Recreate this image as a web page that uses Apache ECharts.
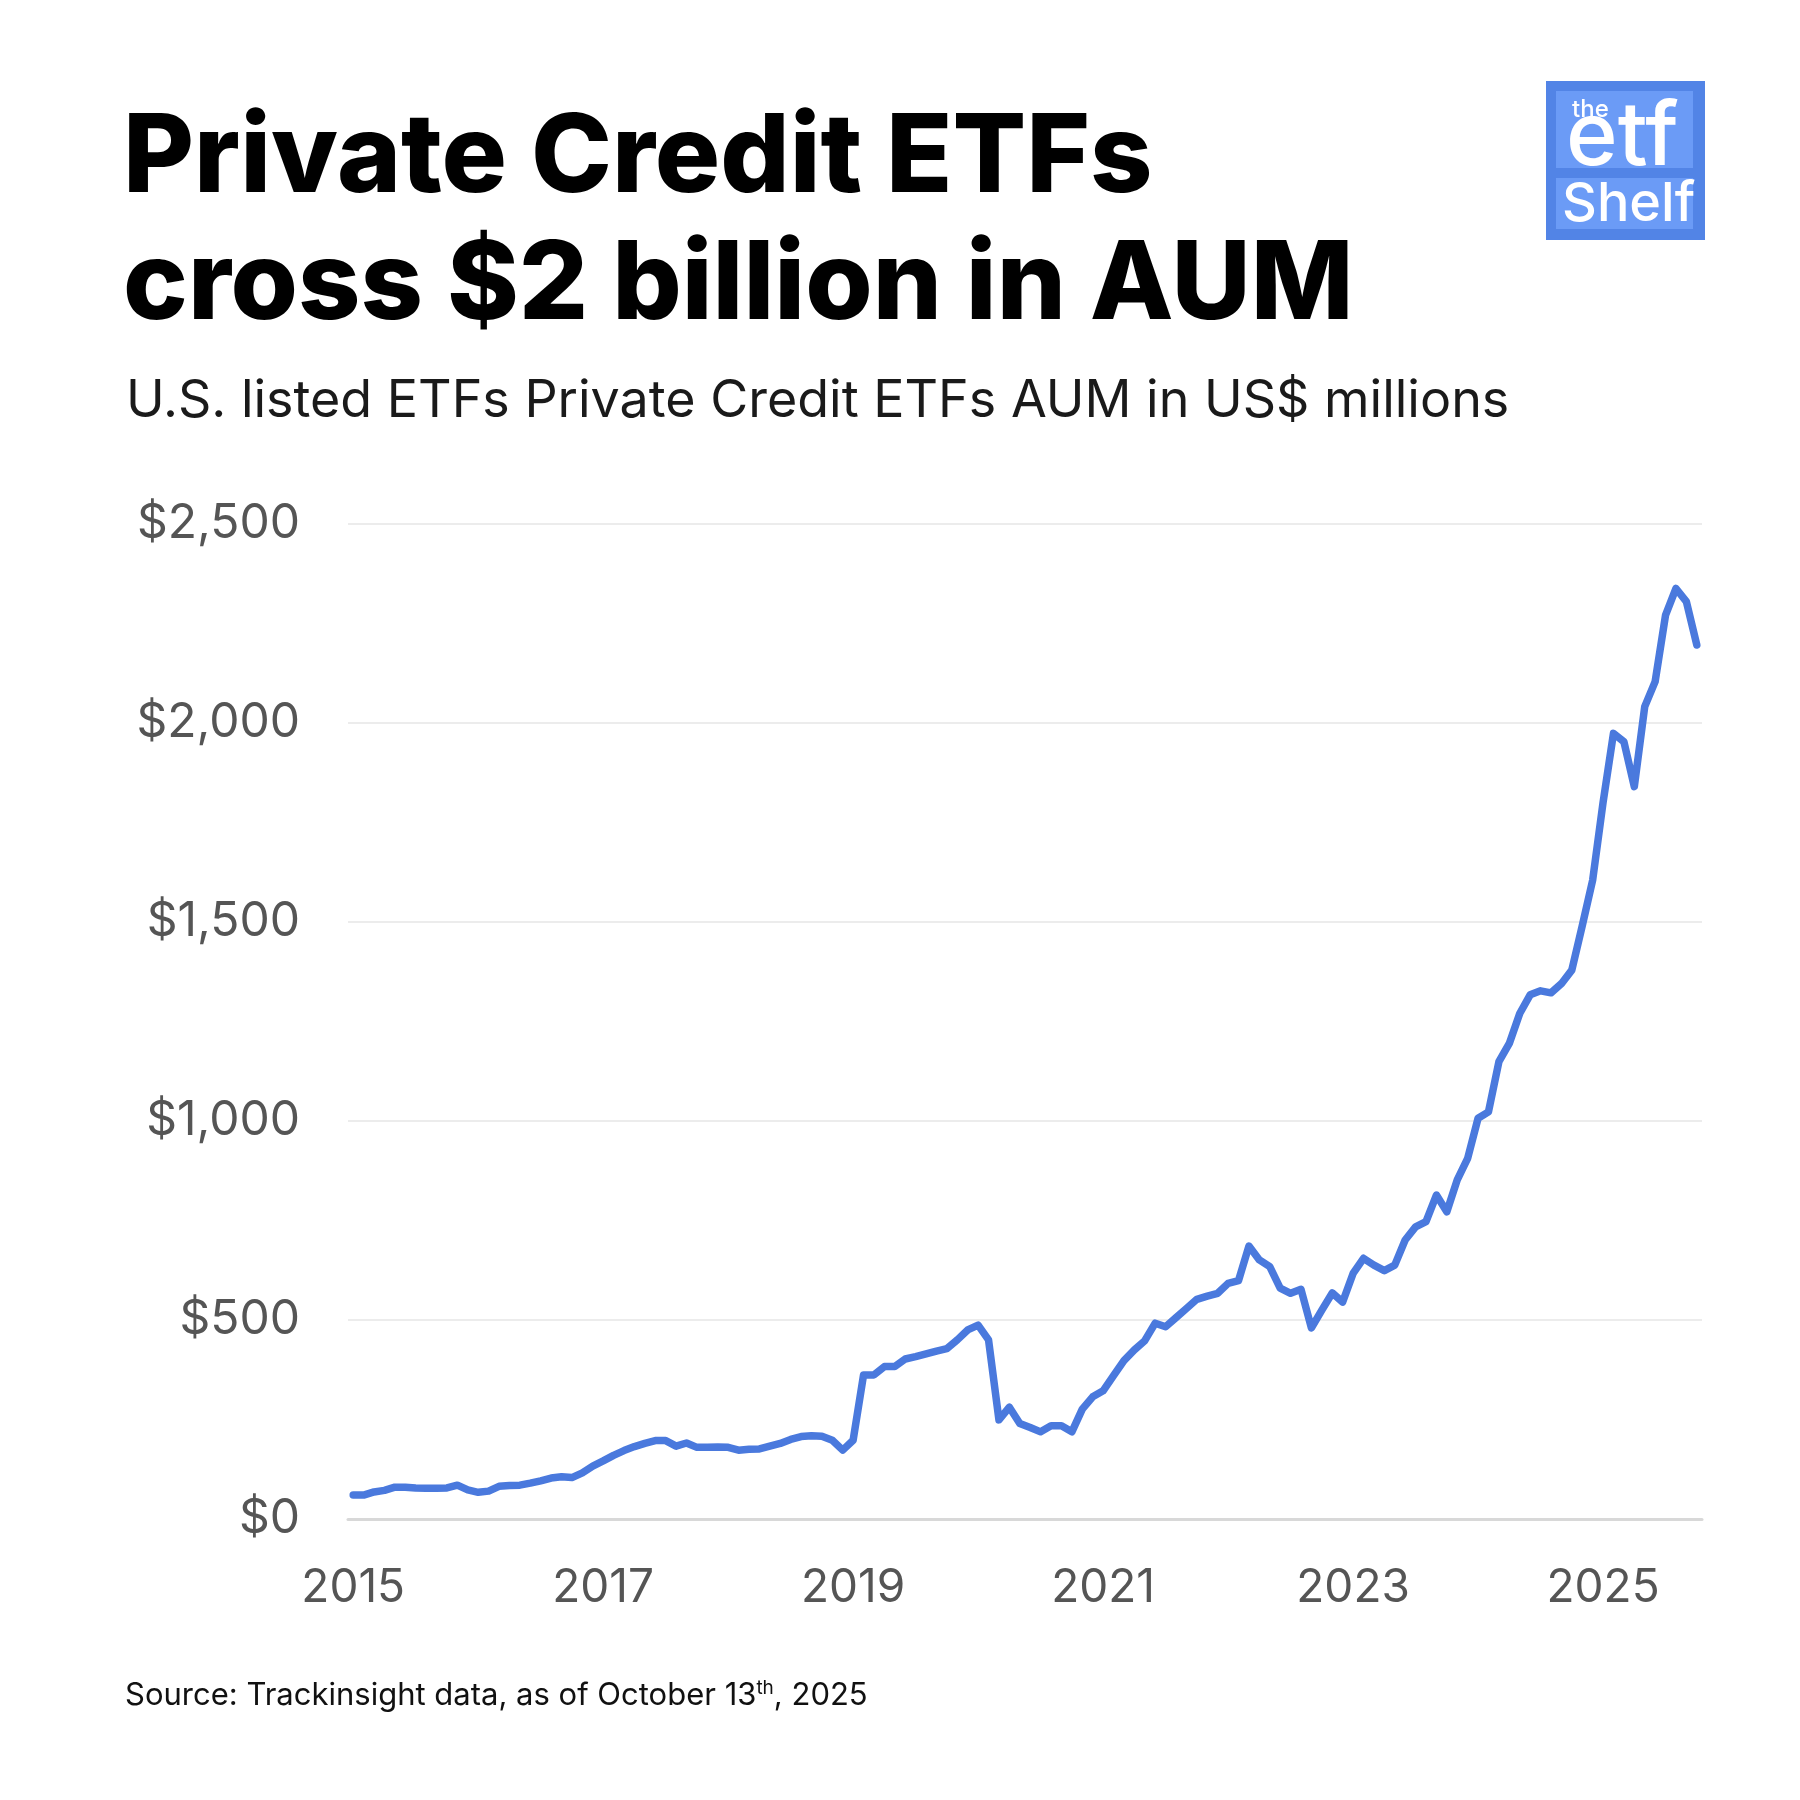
<!DOCTYPE html>
<html>
<head>
<meta charset="utf-8">
<script src="https://cdn.jsdelivr.net/npm/echarts@6/dist/echarts.min.js"></script>
<style>
html,body{margin:0;padding:0;background:#fff;}
#chart{width:1800px;height:1800px;}
</style>
</head>
<body>
<div id="chart"></div>
<script>
// ---- Data (monthly AUM, US$ millions, Jan 2015 .. Oct 2025) ----
const startYear = 2015;
const aum2015 = [60, 60, 68, 72, 80, 80, 78, 77, 77, 78, 85, 73];
const aum2016 = [67, 70, 82, 84, 85, 90, 96, 103, 106, 104, 116, 133];
const aum2017 = [146, 160, 172, 182, 190, 197, 197, 183, 191, 180, 180, 181];
const aum2018 = [180, 173, 175, 176, 183, 190, 200, 207, 209, 208, 198, 173];
const aum2019 = [198, 362, 362, 383, 383, 402, 408, 415, 422, 428, 450, 475];
const aum2020 = [487, 450, 249, 281, 240, 230, 219, 234, 234, 219, 276, 307];
const aum2021 = [322, 360, 398, 425, 448, 492, 483, 506, 529, 552, 560, 567];
const aum2022 = [592, 599, 686, 651, 634, 580, 567, 577, 480, 525, 568, 545];
const aum2023 = [617, 655, 638, 624, 638, 701, 734, 747, 814, 772, 852, 906];
const aum2024 = [1007, 1023, 1149, 1195, 1270, 1317, 1327, 1322, 1345, 1379, 1490, 1605];
const aum2025 = [1800, 1974, 1953, 1840, 2041, 2104, 2271, 2338, 2305, 2196];
const aum = [].concat(aum2015, aum2016, aum2017, aum2018, aum2019, aum2020,
                      aum2021, aum2022, aum2023, aum2024, aum2025);
const yearTicks = [2015, 2017, 2019, 2021, 2023, 2025];
const yTicks = [0, 500, 1000, 1500, 2000, 2500];

const titleText = 'Private Credit ETFs\ncross $2 billion in AUM';
const subtitleText = 'U.S. listed ETFs Private Credit ETFs AUM in US$ millions';

const chart = echarts.init(document.getElementById('chart'), null, {renderer: 'canvas'});

const seriesData = aum.map((v, i) => [i, v]);
const tickMonths = yearTicks.map(y => (y - startYear) * 12);

const option = {
  backgroundColor: '#ffffff',
  animation: false,
  title: [
    {
      text: titleText,
      left: 118, top: 91,
      textStyle: {fontFamily: 'Inter', fontWeight: 800, fontSize: 109, lineHeight: 127, color: '#000'}
    },
    {
      text: subtitleText,
      left: 121, top: 366,
      textStyle: {fontFamily: 'Inter', fontWeight: 400, fontSize: 52, lineHeight: 60, color: '#1a1a1a'}
    },
    {
      text: 'Source: Trackinsight data, as of October 13{sup|th}, 2025',
      left: 120, top: 1674,
      textStyle: {
        fontFamily: 'Inter', fontWeight: 400, fontSize: 31, color: '#111',
        rich: {sup: {fontFamily: 'Inter', fontSize: 19, color: '#111', verticalAlign: 'top', padding: [0, 0, 14, 0]}}
      }
    }
  ],
  grid: {left: 348, right: 98, top: 524, bottom: 281, containLabel: false},
  xAxis: {
    type: 'value',
    min: -0.5,
    max: 129.5,
    splitLine: {show: false},
    axisLine: {show: true, lineStyle: {color: '#d8d8d8', width: 3}},
    axisTick: {show: false, customValues: tickMonths},
    axisLabel: {
      customValues: tickMonths,
      formatter: v => String(startYear + Math.round(v / 12)),
      fontFamily: 'Inter', fontSize: 46, color: '#555', margin: 46
    }
  },
  yAxis: {
    type: 'value',
    min: 0, max: 2500, interval: 500,
    axisLine: {show: false},
    axisTick: {show: false},
    splitLine: {show: true, lineStyle: {color: '#ececec', width: 2}},
    axisLabel: {
      formatter: v => '$' + v.toLocaleString('en-US'),
      fontFamily: 'Inter', fontSize: 48, color: '#555', margin: 48
    }
  },
  series: [{
    type: 'line',
    data: seriesData,
    showSymbol: false,
    symbol: 'none',
    lineStyle: {color: '#4a79dd', width: 7.5, join: 'round', cap: 'round'},
    z: 5
  }],
  graphic: [
    {type: 'rect', shape: {x: 1546, y: 81, width: 159, height: 159}, style: {fill: '#5284e6'}},
    {type: 'rect', shape: {x: 1556, y: 91, width: 137, height: 77}, style: {fill: '#6b9bf6'}},
    {type: 'rect', shape: {x: 1556, y: 178, width: 137, height: 51}, style: {fill: '#6b9bf6'}},
    {type: 'text', style: {text: 'the', x: 1572, y: 110, fill: '#fff', font: '500 24px Inter', verticalAlign: 'middle'}},
    {type: 'text', style: {text: 'etf', x: 1566, y: 139, fill: '#fff', font: '500 88px Inter', verticalAlign: 'middle'}},
    {type: 'text', style: {text: 'Shelf', x: 1562, y: 205, fill: '#fff', font: '500 54px Inter', verticalAlign: 'middle'}}
  ]
};
chart.setOption(option);
</script>
</body>
</html>
